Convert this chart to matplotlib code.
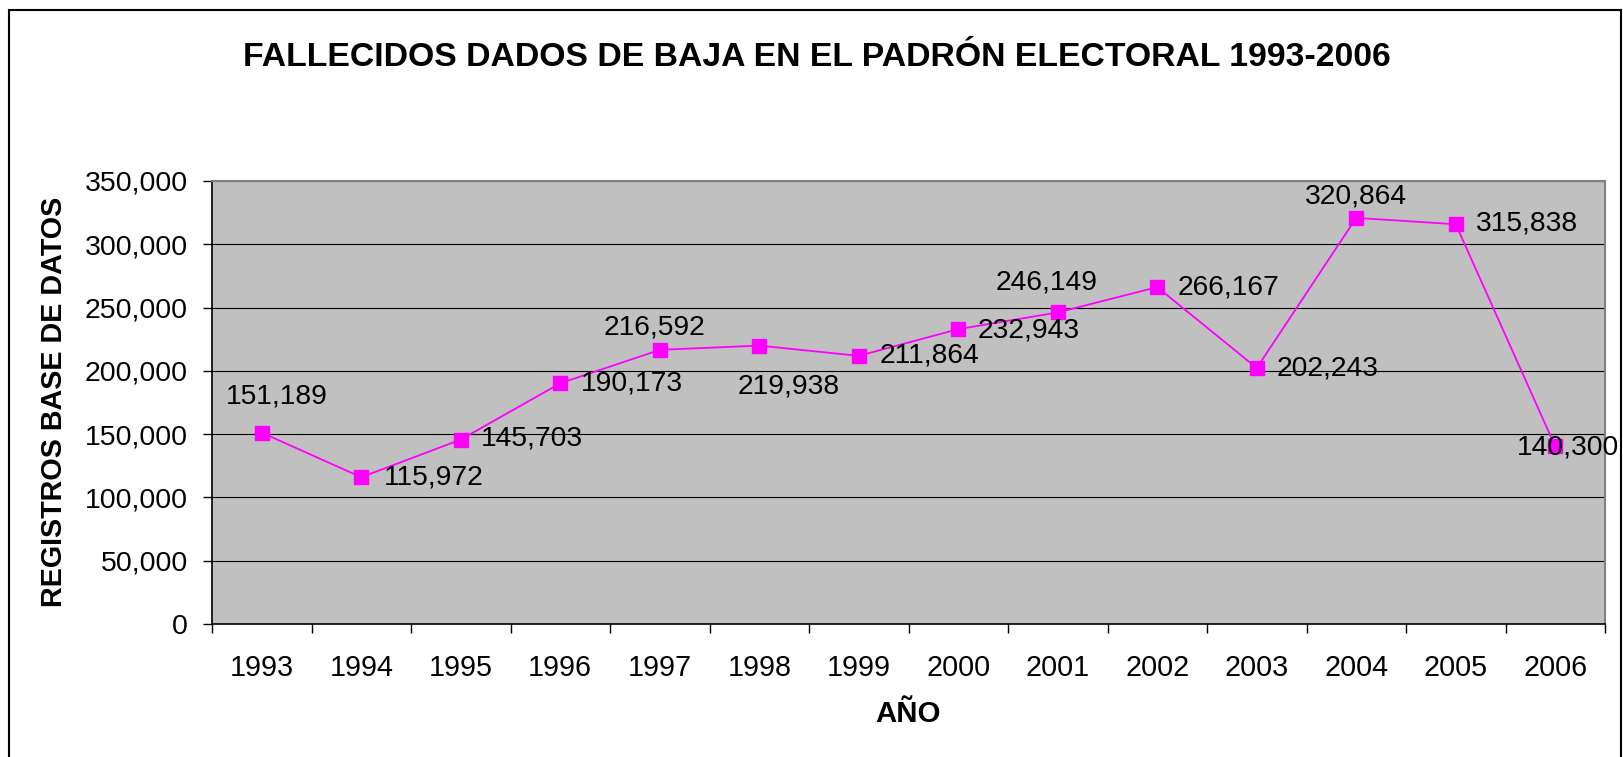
import numpy as np
import matplotlib
matplotlib.use("Agg")
from matplotlib import pyplot as plt
from matplotlib.patches import Rectangle
from matplotlib.ticker import FuncFormatter, FixedLocator

plt.rcParams['font.family'] = ['Liberation Sans', 'DejaVu Sans']

# datos
anios = ['1993', '1994', '1995', '1996', '1997', '1998', '1999',
         '2000', '2001', '2002', '2003', '2004', '2005', '2006']
fallecidos = [151189, 115972, 145703, 190173, 216592, 219938, 211864,
              232943, 246149, 266167, 202243, 320864, 315838, 140300]

# offsets de etiquetas (pixeles) como en el original
offsets = [(15, 36), (72, 0), (71, 1), (72, 0), (-5, 22), (29, -41), (71, 0),
           (70, -1), (-11, 30), (71, 0), (71, 0), (0, 21), (71, 1), (13, -1)]

fig = plt.figure(figsize=(16.23, 7.57), dpi=100)
ax = fig.add_axes([212/1623, 1-624/757, (1605-212)/1623, (624-181)/757])
ax.set_facecolor('#C0C0C0')

x = np.arange(len(anios))
ax.plot(x, fallecidos, color='#FF00FF', lw=1.3, marker='s', markersize=9.5,
        markerfacecolor='#FF00FF', markeredgecolor='#FF00FF', zorder=3)

for xi, v, (dx, dy) in zip(x, fallecidos, offsets):
    ax.annotate(f'{v:,}', (xi, v), xytext=(dx, dy), textcoords='offset pixels',
                ha='center', va='center', fontsize=20.3, color='black',
                annotation_clip=False, zorder=4)

ax.set_xlim(-0.5, len(anios) - 0.5)
ax.set_ylim(0, 350000)
ax.set_yticks(np.arange(0, 350001, 50000))
ax.yaxis.set_major_formatter(FuncFormatter(lambda v, p: f'{int(v):,}'))
ax.yaxis.grid(True, color='black', lw=0.8)
ax.set_axisbelow(True)

ax.xaxis.set_major_locator(FixedLocator(np.arange(-0.5, len(anios), 1.0)))
ax.xaxis.set_minor_locator(FixedLocator(x))
ax.set_xticklabels([])
ax.set_xticklabels(anios, minor=True)
ax.tick_params(axis='x', which='major', length=6.5, width=1, direction='out')
ax.tick_params(axis='x', which='minor', length=0, pad=21.5, labelsize=20.7)
ax.tick_params(axis='y', length=6.5, width=1, direction='out', pad=11, labelsize=20.5)

for s in ['top', 'right']:
    ax.spines[s].set_color('#808080')
    ax.spines[s].set_linewidth(1.5)
for s in ['left', 'bottom']:
    ax.spines[s].set_color('black')
    ax.spines[s].set_linewidth(1.2)

fig.text(817/1623, 1-57/757, 'FALLECIDOS DADOS DE BAJA EN EL PADRÓN ELECTORAL 1993-2006',
         ha='center', va='center', fontsize=24.3, fontweight='bold')
fig.text(54/1623, 1-402/757, 'REGISTROS BASE DE DATOS', rotation=90,
         ha='center', va='center', fontsize=20.7, fontweight='bold')
fig.text(908/1623, 1-714/757, 'AÑO', ha='center', va='center',
         fontsize=21.2, fontweight='bold')

fig.patches.append(Rectangle((9/1623, -0.05), (1621-9)/1623, 1.05-10/757,
                             transform=fig.transFigure, fill=False,
                             edgecolor='black', lw=1.5))

fig.savefig('out.png', dpi=100)
